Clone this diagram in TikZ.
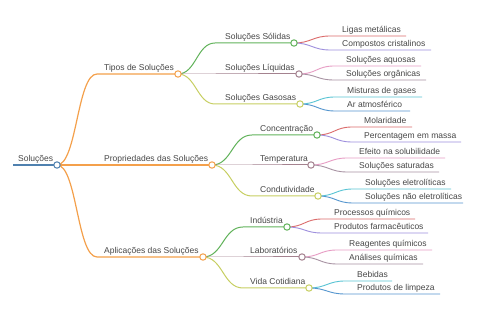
\documentclass[tikz,border=0pt]{standalone}
\usepackage{fontspec}
\setmainfont{Liberation Sans}
\definecolor{cRoot}{HTML}{4F81AF}
\definecolor{cOr}{HTML}{F4A04B}
\definecolor{cGreen}{HTML}{62B35B}
\definecolor{cMauve}{HTML}{A4828F}
\definecolor{cYg}{HTML}{C7CF62}
\definecolor{cRed}{HTML}{DB6B6B}
\definecolor{cPurple}{HTML}{9E8FDD}
\definecolor{cPink}{HTML}{E79CC4}
\definecolor{cGreyp}{HTML}{A893A3}
\definecolor{cCyan}{HTML}{58C4D4}
\definecolor{cBlue}{HTML}{5596CF}
\definecolor{txt}{HTML}{474747}
\newcommand\conn[5]{\draw[#1] (#2) .. controls +(#5,0) and +(-#5,0) .. (#3) -- (#4);}
\begin{document}
\begin{tikzpicture}[x=1pt,y=-1pt,
  lbl/.style={anchor=base west, inner sep=0pt, font=\fontsize{8.5}{10}\selectfont, text=txt},
  dot/.style={circle, draw, fill=white, inner sep=0pt, minimum size=6.4pt, line width=1pt},
  rootline/.style={draw=cRoot, line width=1.5pt},
  lone/.style={draw=cOr, line width=1.2pt},
  ltwo/.style={line width=1pt},
  lthree/.style={line width=0.9pt}]
\useasboundingbox[fill=white] (0,0) rectangle (480,320);

% root
\coordinate (r0) at (13,165);
\coordinate (rc) at (57,165);
\node[lbl] (rt) at (18,162) {Soluções};
\draw[rootline] (r0) -- (rc);

% level 1
\coordinate (Ts) at (97,74);  \coordinate (Tc) at (178,74);
\coordinate (Ps) at (97,165); \coordinate (Pc) at (212,165);
\coordinate (As) at (97,257); \coordinate (Ac) at (203,257);
\node[lbl] (Tt) at (104,71) {Tipos de Soluções};
\node[lbl] (Pt) at (104,162) {Propriedades das Soluções};
\node[lbl] (At) at (104,254) {Aplicações das Soluções};
\conn{lone}{rc}{Ts}{Tc}{20}
\conn{lone}{rc}{Ps}{Pc}{20}
\conn{lone}{rc}{As}{Ac}{20}

% level 2
\coordinate (TSs) at (215,43);  \coordinate (TSc) at (294,43);
\coordinate (TLs) at (215,74);  \coordinate (TLc) at (299,74);
\coordinate (TGs) at (215,104); \coordinate (TGc) at (300,104);
\node[lbl] at (225,40) {Soluções Sólidas};
\node[lbl] at (225,71) {Soluções Líquidas};
\node[lbl] at (225,101) {Soluções Gasosas};
\conn{ltwo,draw=cGreen}{Tc}{TSs}{TSc}{18}
\conn{ltwo,draw=cMauve}{Tc}{TLs}{TLc}{18}
\conn{ltwo,draw=cYg}{Tc}{TGs}{TGc}{18}

\coordinate (PCs) at (252,135); \coordinate (PCc) at (317,135);
\coordinate (PTs) at (252,165); \coordinate (PTc) at (311,165);
\coordinate (PDs) at (252,196); \coordinate (PDc) at (318,196);
\node[lbl] at (260,132) {Concentração};
\node[lbl] at (260,162) {Temperatura};
\node[lbl] at (260,193) {Condutividade};
\conn{ltwo,draw=cGreen}{Pc}{PCs}{PCc}{20}
\conn{ltwo,draw=cMauve}{Pc}{PTs}{PTc}{20}
\conn{ltwo,draw=cYg}{Pc}{PDs}{PDc}{20}

\coordinate (AIs) at (243,227); \coordinate (AIc) at (287,227);
\coordinate (ALs) at (243,257); \coordinate (ALc) at (302,257);
\coordinate (AVs) at (243,288); \coordinate (AVc) at (309,288);
\node[lbl] at (250,224) {Indústria};
\node[lbl] at (250,254) {Laboratórios};
\node[lbl] at (250,285) {Vida Cotidiana};
\conn{ltwo,draw=cGreen}{Ac}{AIs}{AIc}{20}
\conn{ltwo,draw=cMauve}{Ac}{ALs}{ALc}{20}
\conn{ltwo,draw=cYg}{Ac}{AVs}{AVc}{20}

% level 3 leaves
\coordinate (a1s) at (330,36);  \coordinate (a1e) at (406,36);
\coordinate (a2s) at (330,50);  \coordinate (a2e) at (431,50);
\node[lbl] at (342,33) {Ligas metálicas};
\node[lbl] at (342,47) {Compostos cristalinos};
\conn{lthree,draw=cRed}{TSc}{a1s}{a1e}{17}
\conn{lthree,draw=cPurple}{TSc}{a2s}{a2e}{17}

\coordinate (b1s) at (334,66);  \coordinate (b1e) at (421,66);
\coordinate (b2s) at (334,80);  \coordinate (b2e) at (426,80);
\node[lbl] at (346,63) {Soluções aquosas};
\node[lbl] at (346,77) {Soluções orgânicas};
\conn{lthree,draw=cPink}{TLc}{b1s}{b1e}{17}
\conn{lthree,draw=cGreyp}{TLc}{b2s}{b2e}{17}

\coordinate (c1s) at (335,97);  \coordinate (c1e) at (422,97);
\coordinate (c2s) at (335,111); \coordinate (c2e) at (410,111);
\node[lbl] at (347,94) {Misturas de gases};
\node[lbl] at (347,108) {Ar atmosférico};
\conn{lthree,draw=cCyan}{TGc}{c1s}{c1e}{17}
\conn{lthree,draw=cBlue}{TGc}{c2s}{c2e}{17}

\coordinate (d1s) at (352,127); \coordinate (d1e) at (412,127);
\coordinate (d2s) at (352,142); \coordinate (d2e) at (461,142);
\node[lbl] at (364,124) {Molaridade};
\node[lbl] at (364,139) {Percentagem em massa};
\conn{lthree,draw=cRed}{PCc}{d1s}{d1e}{17}
\conn{lthree,draw=cPurple}{PCc}{d2s}{d2e}{17}

\coordinate (e1s) at (347,158); \coordinate (e1e) at (445,158);
\coordinate (e2s) at (347,172); \coordinate (e2e) at (439,172);
\node[lbl] at (359,155) {Efeito na solubilidade};
\node[lbl] at (359,169) {Soluções saturadas};
\conn{lthree,draw=cPink}{PTc}{e1s}{e1e}{17}
\conn{lthree,draw=cGreyp}{PTc}{e2s}{e2e}{17}

\coordinate (f1s) at (353,189); \coordinate (f1e) at (451,189);
\coordinate (f2s) at (353,203); \coordinate (f2e) at (463,203);
\node[lbl] at (365,186) {Soluções eletrolíticas};
\node[lbl] at (365,200) {Soluções não eletrolíticas};
\conn{lthree,draw=cCyan}{PDc}{f1s}{f1e}{17}
\conn{lthree,draw=cBlue}{PDc}{f2s}{f2e}{17}

\coordinate (g1s) at (322,219); \coordinate (g1e) at (415,219);
\coordinate (g2s) at (322,233); \coordinate (g2e) at (428,233);
\node[lbl] at (334,216) {Processos químicos};
\node[lbl] at (334,230) {Produtos farmacêuticos};
\conn{lthree,draw=cRed}{AIc}{g1s}{g1e}{17}
\conn{lthree,draw=cPurple}{AIc}{g2s}{g2e}{17}

\coordinate (h1s) at (337,250); \coordinate (h1e) at (432,250);
\coordinate (h2s) at (337,264); \coordinate (h2e) at (423,264);
\node[lbl] at (349,247) {Reagentes químicos};
\node[lbl] at (349,261) {Análises químicas};
\conn{lthree,draw=cPink}{ALc}{h1s}{h1e}{17}
\conn{lthree,draw=cGreyp}{ALc}{h2s}{h2e}{17}

\coordinate (i1s) at (345,281); \coordinate (i1e) at (392,281);
\coordinate (i2s) at (345,294); \coordinate (i2e) at (440,294);
\node[lbl] at (357,278) {Bebidas};
\node[lbl] at (357,291) {Produtos de limpeza};
\conn{lthree,draw=cCyan}{AVc}{i1s}{i1e}{17}
\conn{lthree,draw=cBlue}{AVc}{i2s}{i2e}{17}

% circles on top
\node[dot, draw=cRoot] (r) at (rc) {};
\node[dot, draw=cOr] (T) at (Tc) {};
\node[dot, draw=cOr] (P) at (Pc) {};
\node[dot, draw=cOr] (A) at (Ac) {};
\node[dot, draw=cGreen] (TS) at (TSc) {};
\node[dot, draw=cMauve] (TL) at (TLc) {};
\node[dot, draw=cYg] (TG) at (TGc) {};
\node[dot, draw=cGreen] (PC) at (PCc) {};
\node[dot, draw=cMauve] (PT) at (PTc) {};
\node[dot, draw=cYg] (PD) at (PDc) {};
\node[dot, draw=cGreen] (AI) at (AIc) {};
\node[dot, draw=cMauve] (AL) at (ALc) {};
\node[dot, draw=cYg] (AV) at (AVc) {};
\end{tikzpicture}
\end{document}
